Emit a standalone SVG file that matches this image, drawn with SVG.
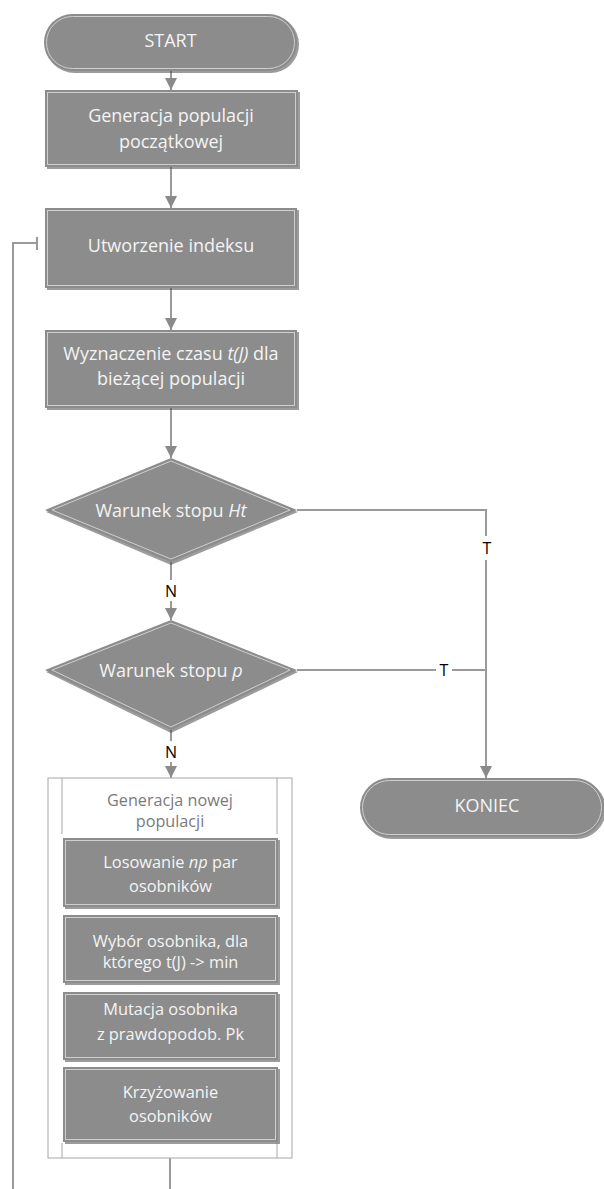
<svg xmlns="http://www.w3.org/2000/svg" width="604" height="1189" viewBox="0 0 604 1189">
<style>
.sh{fill:#4a4a4a;opacity:0.55}
.box{fill:#8c8c8c}
.in{fill:none;stroke:#cfcfcf;stroke-width:1}
.t{font-family:"Open Sans","Liberation Sans",sans-serif;font-size:18px;fill:#f4f4f4;text-anchor:middle}
.s{font-size:16.4px}
.lbl{font-family:"Open Sans","Liberation Sans",sans-serif;font-size:16px;fill:#000000;text-anchor:middle}
.ct{font-family:"Open Sans","Liberation Sans",sans-serif;font-size:16.2px;fill:#7a7a7a;text-anchor:middle}
.c{fill:none;stroke:#9a9a9a;stroke-width:2}
.frame{fill:none;stroke:#a6a6a6;stroke-width:1}
</style>
<defs>
<marker id="ah" viewBox="0 0 10 10" refX="10" refY="5" markerWidth="6" markerHeight="6" markerUnits="strokeWidth" orient="auto">
<path d="M0,0 L10,5 L0,10 Z" fill="#8a8a8a"/>
</marker>
</defs>
<rect width="604" height="1189" fill="#ffffff"/>

<g id="connectors">
<line class="c" x1="171" y1="71" x2="171" y2="90" marker-end="url(#ah)"/>
<line class="c" x1="171" y1="167" x2="171" y2="208" marker-end="url(#ah)"/>
<line class="c" x1="171" y1="288" x2="171" y2="330" marker-end="url(#ah)"/>
<line class="c" x1="171" y1="408" x2="171" y2="458" marker-end="url(#ah)"/>
<line class="c" x1="171" y1="562" x2="171" y2="580"/>
<line class="c" x1="171" y1="601" x2="171" y2="620" marker-end="url(#ah)"/>
<text class="lbl" x="171" y="597">N</text>
<line class="c" x1="171" y1="730" x2="171" y2="741"/>
<line class="c" x1="171" y1="762" x2="171" y2="778" marker-end="url(#ah)"/>
<text class="lbl" x="171" y="758">N</text>
<polyline class="c" points="297,510 486,510 486,536"/>
<line class="c" x1="486" y1="560" x2="486" y2="778" marker-end="url(#ah)"/>
<text class="lbl" x="487" y="554">T</text>
<line class="c" x1="297" y1="670" x2="436" y2="670"/>
<line class="c" x1="452" y1="670" x2="486" y2="670"/>
<text class="lbl" x="444" y="676">T</text>
<line class="c" x1="170" y1="1158" x2="170" y2="1189"/>
<polyline class="c" points="13,1189 13,243 37,243"/>
<line class="c" x1="37" y1="237" x2="37" y2="250"/>
</g>

<g id="start">
<rect class="sh" x="46" y="16" width="253" height="57" rx="28.5"/>
<rect class="box" x="44" y="14" width="253" height="57" rx="28.5"/>
<rect class="in" x="46.5" y="16.5" width="248" height="52" rx="26"/>
<text class="t" x="170.5" y="47">START</text>
</g>

<g id="gen-pocz">
<rect class="sh" x="47" y="92" width="253" height="77"/>
<rect class="box" x="45" y="90" width="253" height="77"/>
<rect class="in" x="47.5" y="92.5" width="248" height="72"/>
<text class="t" x="171" y="122">Generacja populacji</text>
<text class="t" x="171" y="148">początkowej</text>
</g>

<g id="utworzenie">
<rect class="sh" x="47" y="210" width="252" height="80"/>
<rect class="box" x="45" y="208" width="252" height="80"/>
<rect class="in" x="47.5" y="210.5" width="247" height="75"/>
<text class="t" x="171" y="252">Utworzenie indeksu</text>
</g>

<g id="wyznaczenie">
<rect class="sh" x="47" y="332" width="252" height="78"/>
<rect class="box" x="45" y="330" width="252" height="78"/>
<rect class="in" x="47.5" y="332.5" width="247" height="73"/>
<text class="t" x="171" y="360">Wyznaczenie czasu <tspan font-style="italic">t(J)</tspan> dla</text>
<text class="t" x="171" y="385">bieżącej populacji</text>
</g>

<g id="warunek-ht">
<polygon class="sh" points="171,460 298,512 171,565 46,512"/>
<polygon class="box" points="171,458 297,510 171,562 45,510"/>
<polygon class="in" points="171,461 290,510 171,559 52,510"/>
<text class="t" x="171" y="517">Warunek stopu <tspan font-style="italic">Ht</tspan></text>
</g>

<g id="warunek-p">
<polygon class="sh" points="171,622 298,672 171,733 46,672"/>
<polygon class="box" points="171,620 297,670 171,730 45,670"/>
<polygon class="in" points="171,623 290,670 171,727 52,670"/>
<text class="t" x="171" y="677">Warunek stopu <tspan font-style="italic">p</tspan></text>
</g>

<g id="koniec">
<rect class="sh" x="362" y="780" width="244" height="59" rx="29.5"/>
<rect class="box" x="360" y="778" width="244" height="59" rx="29.5"/>
<rect class="in" x="362.5" y="780.5" width="239" height="54" rx="27"/>
<text class="t" x="487" y="812">KONIEC</text>
</g>

<g id="generacja-nowej">
<rect x="48" y="778" width="244" height="380" fill="#ffffff" stroke="#a6a6a6" stroke-width="1"/>
<line class="frame" x1="62" y1="778" x2="62" y2="834"/>
<line class="frame" x1="277" y1="778" x2="277" y2="834"/>
<line class="frame" x1="62" y1="1143" x2="62" y2="1158"/>
<line class="frame" x1="277" y1="1143" x2="277" y2="1158"/>
<text class="ct" x="170" y="806">Generacja nowej</text>
<text class="ct" x="170" y="827">populacji</text>
</g>

<g id="losowanie">
<rect class="sh" x="65" y="840" width="215" height="69"/>
<rect class="box" x="63" y="838" width="215" height="69"/>
<rect class="in" x="65.5" y="840.5" width="210" height="64"/>
<text class="t s" x="170.5" y="868">Losowanie <tspan font-style="italic">np</tspan> par</text>
<text class="t s" x="170.5" y="892">osobników</text>
</g>

<g id="wybor">
<rect class="sh" x="65" y="917" width="215" height="68"/>
<rect class="box" x="63" y="915" width="215" height="68"/>
<rect class="in" x="65.5" y="917.5" width="210" height="63"/>
<text class="t s" x="170.5" y="947">Wybór osobnika, dla</text>
<text class="t s" x="170.5" y="968">którego t(J) -&gt; min</text>
</g>

<g id="mutacja">
<rect class="sh" x="65" y="994" width="215" height="68"/>
<rect class="box" x="63" y="992" width="215" height="68"/>
<rect class="in" x="65.5" y="994.5" width="210" height="63"/>
<text class="t s" x="170.5" y="1015">Mutacja osobnika</text>
<text class="t s" x="170.5" y="1040">z prawdopodob. Pk</text>
</g>

<g id="krzyzowanie">
<rect class="sh" x="65" y="1069" width="215" height="75"/>
<rect class="box" x="63" y="1067" width="215" height="75"/>
<rect class="in" x="65.5" y="1069.5" width="210" height="70"/>
<text class="t s" x="170.5" y="1098">Krzyżowanie</text>
<text class="t s" x="170.5" y="1122">osobników</text>
</g>
</svg>
